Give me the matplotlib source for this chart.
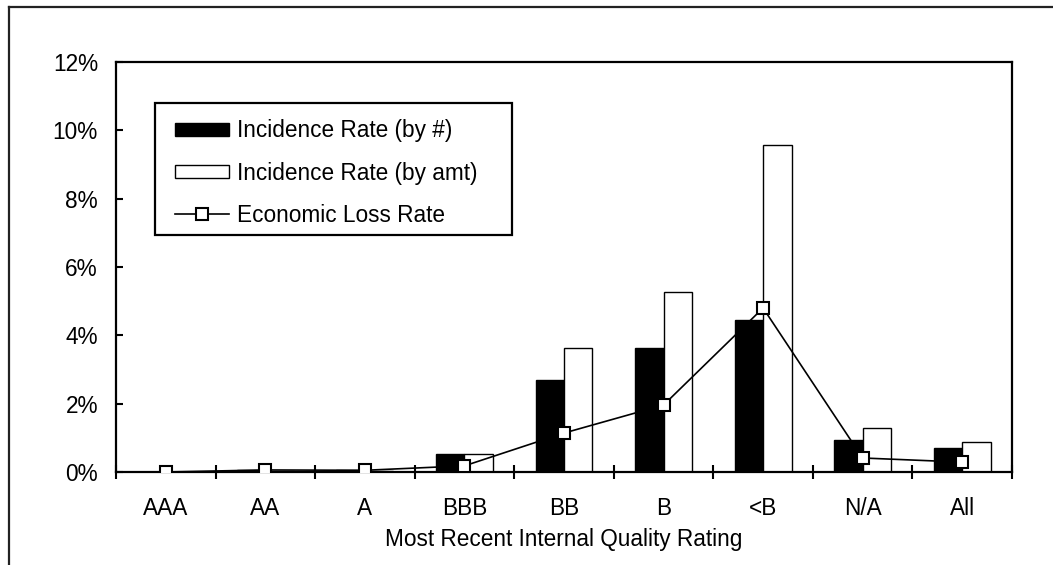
import matplotlib
matplotlib.use('Agg')
import matplotlib.pyplot as plt
from matplotlib.lines import Line2D
from matplotlib.patches import Rectangle
import numpy as np

plt.rcParams['font.family'] = ['Liberation Sans', 'DejaVu Sans']

# Data (percent)
ratings = ['AAA', 'AA', 'A', 'BBB', 'BB', 'B', '<B', 'N/A', 'All']
incidence_by_num = [0.0, 0.05, 0.06, 0.53, 2.69, 3.63, 4.45, 0.94, 0.70]
incidence_by_amt = [0.0, 0.02, 0.03, 0.53, 3.63, 5.27, 9.58, 1.29, 0.88]
econ_loss_rate = [0.0, 0.06, 0.05, 0.18, 1.14, 1.96, 4.80, 0.41, 0.29]
y_ticks = [0, 2, 4, 6, 8, 10, 12]

FS = 16.3

fig = plt.figure(figsize=(10.53, 5.65), dpi=100)
ax = fig.add_axes([0.1102, 0.1646, 0.961 - 0.1102, 0.8903 - 0.1646])

# outer frame (top and left edges only visible)
fig.add_artist(Line2D([9 / 1053, 9 / 1053], [0, 1 - 7 / 565], color='#222222', lw=1.6))
fig.add_artist(Line2D([9 / 1053, 1], [1 - 7 / 565, 1 - 7 / 565], color='#222222', lw=1.6))

x = np.arange(len(ratings))
w = 0.286
b1 = ax.bar(x - w / 2, incidence_by_num, w, color='black', edgecolor='black', lw=1,
            label='Incidence Rate (by #)', zorder=2)
b2 = ax.bar(x + w / 2, incidence_by_amt, w, color='white', edgecolor='black', lw=1,
            label='Incidence Rate (by amt)', zorder=2)
ln, = ax.plot(x, econ_loss_rate, color='black', lw=1.2, marker='s', markersize=8,
              markerfacecolor='white', markeredgecolor='black', markeredgewidth=1.5,
              label='Economic Loss Rate', zorder=3)

ax.set_xlim(-0.5, len(ratings) - 0.5)
ax.set_ylim(0, 12)
ax.set_yticks(y_ticks)
ax.set_yticklabels([f'{t}%' for t in y_ticks])
ax.set_xticks(x)
ax.set_xticklabels(ratings)
ax.set_xticks(np.arange(len(ratings) + 1) - 0.5, minor=True)

ax.tick_params(axis='y', direction='in', length=5, width=1.5, labelsize=FS, pad=13)
ax.tick_params(axis='x', which='major', length=0, labelsize=FS, pad=18)
ax.tick_params(axis='x', which='minor', direction='inout', length=10, width=1.5)
for s in ax.spines.values():
    s.set_linewidth(1.6)

ax.set_xlabel('Most Recent Internal Quality Rating', fontsize=FS, labelpad=6)

# legend box drawn separately so it can be wider than its contents
ax.add_patch(Rectangle((0.0435, 0.578), 0.3984, 0.322, transform=ax.transAxes,
                       facecolor='white', edgecolor='black', lw=1.6, zorder=4))
leg = ax.legend(handles=[b1, b2, ln], loc='upper left', bbox_to_anchor=(0.0658, 0.86),
                fontsize=FS, frameon=False, handlelength=2.4, handleheight=0.55,
                handletextpad=0.35, labelspacing=0.85, borderpad=0, borderaxespad=0)
leg.set_zorder(5)

fig.savefig('out.png', dpi=100)
